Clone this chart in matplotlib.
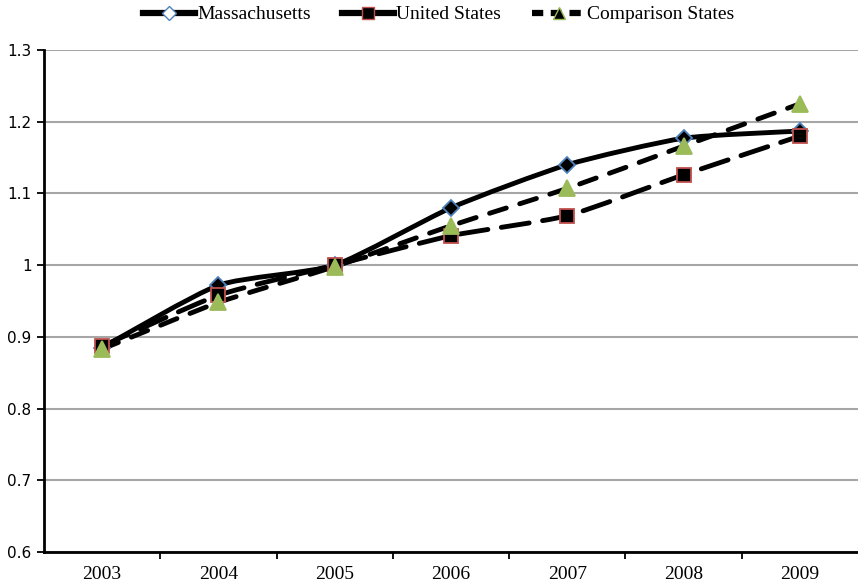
import numpy as np
import matplotlib
matplotlib.use('Agg')
import matplotlib.pyplot as plt
from matplotlib.path import Path
from matplotlib.patches import PathPatch
from matplotlib.lines import Line2D

years = ['2003', '2004', '2005', '2006', '2007', '2008', '2009']
massachusetts = [0.885, 0.972, 1.000, 1.080, 1.140, 1.177, 1.187]
united_states = [0.887, 0.958, 1.000, 1.041, 1.069, 1.126, 1.180]
comparison = [0.883, 0.948, 0.998, 1.055, 1.107, 1.166, 1.225]

blue = '#4f81bd'
red = '#c0504d'
green = '#9bbb59'


def smooth_path(xs, ys, k=10.0):
    # smoothed line like excel: cubic bezier segments through each point
    pts = np.column_stack([xs, ys])
    n = len(pts)
    verts = [pts[0]]
    codes = [Path.MOVETO]
    for i in range(n - 1):
        p0 = pts[i - 1] if i > 0 else pts[i]
        p1 = pts[i]
        p2 = pts[i + 1]
        p3 = pts[i + 2] if i + 2 < n else pts[i + 1]
        c1 = p1 + (p2 - p0) / k
        c2 = p2 - (p3 - p1) / k
        verts += [c1, c2, p2]
        codes += [Path.CURVE4] * 3
    return Path(verts, codes)


fig = plt.figure(figsize=(8.58, 5.85), dpi=100)
ax = fig.add_axes([0.0513, 0.0564, 0.9487, 0.8581])

x = np.arange(len(years))
lw = 3.5

series = [
    (massachusetts, '-', 'D', 'black', blue, 8),
    (united_states, (0, (5.8, 2.8)), 's', 'black', red, 9.5),
    (comparison, (0, (3.6, 2.9)), '^', green, green, 11),
]

for vals, ls, mk, fc, ec, ms in series:
    patch = PathPatch(smooth_path(x, vals), fill=False, edgecolor='black',
                      linewidth=lw, linestyle=ls, capstyle='round', zorder=3)
    ax.add_patch(patch)
for vals, ls, mk, fc, ec, ms in series:
    ax.plot(x, vals, linestyle='none', marker=mk, markersize=ms,
            markerfacecolor=fc, markeredgecolor=ec, markeredgewidth=1.3, zorder=4)

ax.set_xlim(-0.5, len(years) - 0.5)
ax.set_ylim(0.6, 1.3)
ax.set_yticks(np.arange(0.6, 1.31, 0.1))
ax.set_yticklabels(['0.6', '0.7', '0.8', '0.9', '1', '1.1', '1.2', '1.3'],
                   fontsize=11, family='DejaVu Sans')
ax.set_xticks(x)
ax.set_xticklabels(years, fontsize=14, family='Liberation Serif')
ax.set_xticks(np.arange(0.5, len(years) - 0.5, 1), minor=True)
ax.tick_params(axis='x', which='major', length=0, pad=10)
ax.tick_params(axis='x', which='minor', length=5, width=1.3, direction='out')
ax.tick_params(axis='y', length=5, width=1.3, direction='out', pad=4)

ax.yaxis.grid(True, color='#a6a6a6', linewidth=1.5)
ax.set_axisbelow(True)
for s in ['top', 'right']:
    ax.spines[s].set_visible(False)
ax.spines['left'].set_linewidth(2)
ax.spines['bottom'].set_linewidth(2)
ax.spines['bottom'].set_zorder(5)

handles = [
    Line2D([], [], color='black', lw=4.5, marker='D', markersize=7,
           markerfacecolor='white', markeredgecolor=blue),
    Line2D([], [], color='black', lw=4.5, marker='s', markersize=9,
           markerfacecolor='black', markeredgecolor=red),
    Line2D([], [], color='black', lw=4.5, linestyle=(0, (1.8, 1.2)), marker='^',
           markersize=8, markerfacecolor='black', markeredgecolor=green),
]
fig.legend(handles, ['Massachusetts', 'United States', 'Comparison States'],
           loc='center', bbox_to_anchor=(0.511, 0.975), ncol=3, frameon=False,
           handlelength=2.7, handletextpad=0.1, columnspacing=1.6,
           prop={'family': 'Liberation Serif', 'size': 14})

fig.savefig('out.png', dpi=100)
